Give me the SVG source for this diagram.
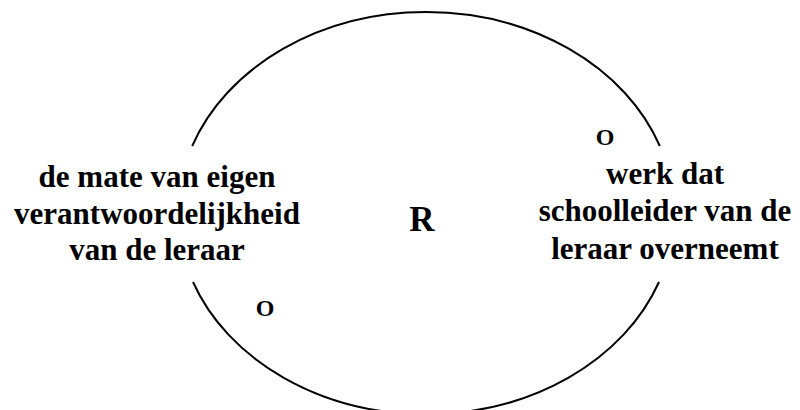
<svg xmlns="http://www.w3.org/2000/svg" width="800" height="410" viewBox="0 0 800 410">
<style>
text{font-family:'Liberation Serif','Times New Roman',Times,serif;font-weight:700;fill:#000;text-anchor:middle}
.lbl{font-size:31px}
.r{font-size:35px}
.o{font-size:24px}
.arc{fill:none;stroke:#000;stroke-width:2}
</style>
<rect width="800" height="410" fill="#fff"/>
<g id="connectors">
<path class="arc" d="M192.2,146 A248,201 0 0 1 659.8,146"/>
<path class="arc" d="M193,282 A248,201 0 0 0 659,282"/>
</g>
<g id="node-left">
<text class="lbl" x="157" y="187">de mate van eigen</text>
<text class="lbl" x="157" y="224">verantwoordelijkheid</text>
<text class="lbl" x="157" y="260">van de leraar</text>
</g>
<g id="node-right">
<text class="lbl" x="665" y="184">werk dat</text>
<text class="lbl" x="665" y="221">schoolleider van de</text>
<text class="lbl" x="665" y="259">leraar overneemt</text>
</g>
<g id="label-r"><text class="r" x="422" y="231">R</text></g>
<g id="label-o-top"><text class="o" x="605" y="145">O</text></g>
<g id="label-o-bottom"><text class="o" x="265" y="316">O</text></g>
</svg>
